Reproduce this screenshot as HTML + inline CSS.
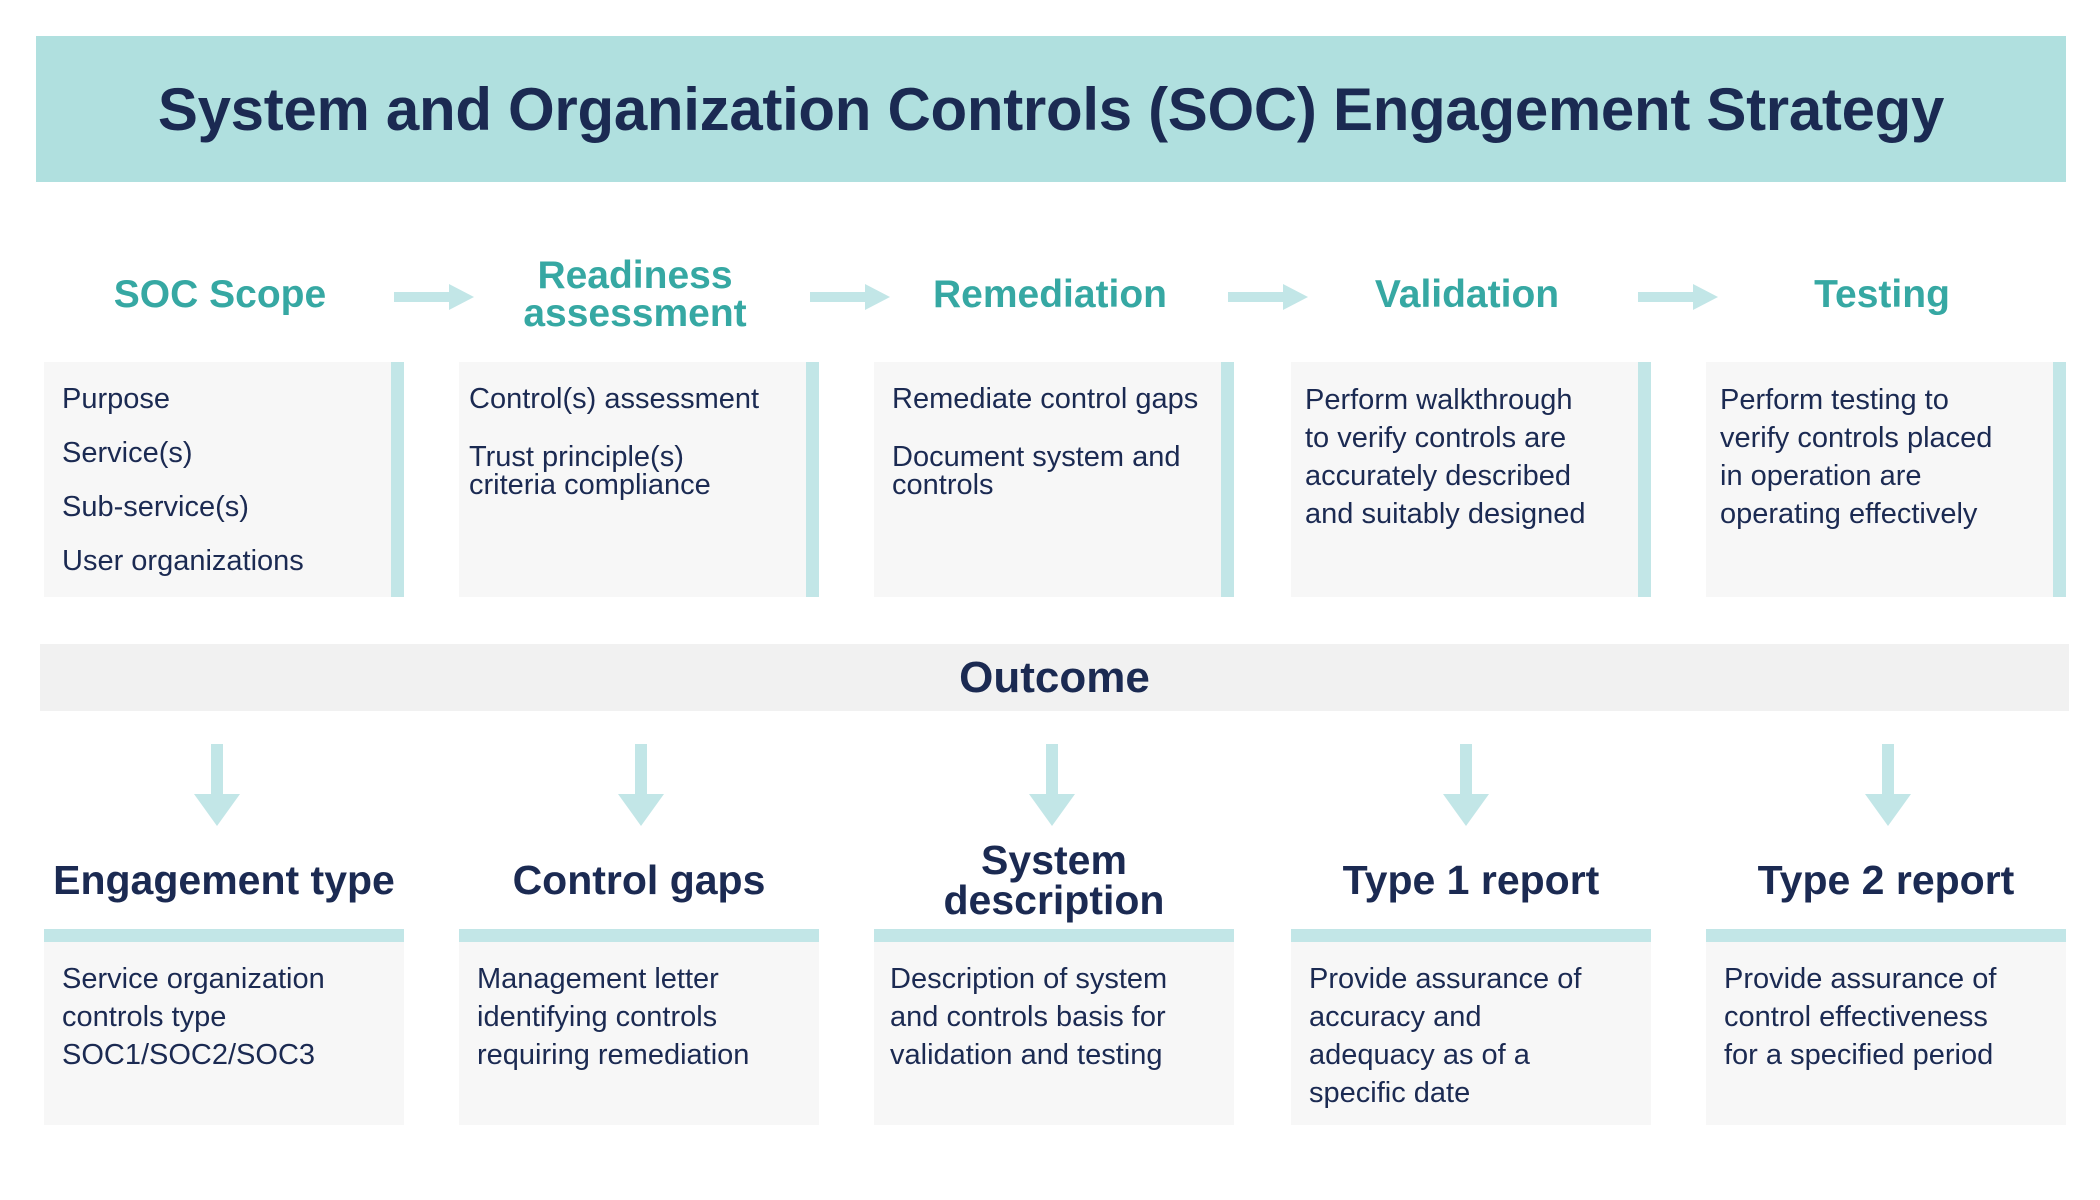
<!DOCTYPE html>
<html><head><meta charset="utf-8"><style>
*{margin:0;padding:0;box-sizing:border-box}
body{width:2100px;height:1200px;background:#fff;position:relative;overflow:hidden;font-family:"Liberation Sans",sans-serif;color:#1b2a52}
.a{position:absolute}
.banner{left:36px;top:36px;width:2030px;height:146px;background:#b0e0df;display:flex;align-items:center;justify-content:center;font-weight:bold;font-size:60px;letter-spacing:-0.3px}
.h{position:absolute;top:250px;height:90px;width:360px;display:flex;align-items:center;justify-content:center;text-align:center;color:#36a8a3;font-weight:bold;font-size:39px;line-height:38px}
.box{position:absolute;top:362px;height:235px;width:360px;background:#f7f7f7;border-right:13px solid #c2e6e7;padding:19px 6px 0 18px;font-size:29px;line-height:38px;white-space:nowrap}
.harr{position:absolute;top:284px;width:80px;height:26px}
.out{left:40px;top:644px;width:2029px;height:67px;background:#f1f1f1;text-align:center;font-weight:bold;font-size:44px;line-height:67px}
.varr{position:absolute;top:744px;width:46px;height:82px}
.bh{position:absolute;top:840px;height:80px;width:360px;display:flex;align-items:center;justify-content:center;text-align:center;font-weight:bold;font-size:41px;line-height:40px;white-space:nowrap}
.bbox{position:absolute;top:929px;height:196px;width:360px;background:#f7f7f7;border-top:13px solid #c2e6e7;padding:18px 6px 0 18px;font-size:29px;line-height:38px;white-space:nowrap}
</style></head><body>
<div class="a banner">System and Organization Controls (SOC) Engagement Strategy</div>

<div class="h" style="left:40px">SOC Scope</div>
<div class="h" style="left:455px">Readiness<br>assessment</div>
<div class="h" style="left:870px">Remediation</div>
<div class="h" style="left:1287px">Validation</div>
<div class="h" style="left:1702px">Testing</div>

<svg class="harr" style="left:394px" viewBox="0 0 80 26"><polygon points="0,8 55,8 55,0 80,13 55,26 55,18 0,18" fill="#c2e6e7"/></svg>
<svg class="harr" style="left:810px" viewBox="0 0 80 26"><polygon points="0,8 55,8 55,0 80,13 55,26 55,18 0,18" fill="#c2e6e7"/></svg>
<svg class="harr" style="left:1228px" viewBox="0 0 80 26"><polygon points="0,8 55,8 55,0 80,13 55,26 55,18 0,18" fill="#c2e6e7"/></svg>
<svg class="harr" style="left:1638px" viewBox="0 0 80 26"><polygon points="0,8 55,8 55,0 80,13 55,26 55,18 0,18" fill="#c2e6e7"/></svg>

<div class="box" style="left:44px;line-height:54px;padding-top:10px">Purpose<br>Service(s)<br>Sub-service(s)<br>User organizations</div>
<div class="box" style="left:459px;padding-left:10px;line-height:28px;padding-top:23px">Control(s) assessment<br><div style="height:30px"></div>Trust principle(s)<br>criteria compliance</div>
<div class="box" style="left:874px;padding-left:18px;line-height:28px;padding-top:23px">Remediate control gaps<br><div style="height:30px"></div>Document system and<br>controls</div>
<div class="box" style="left:1291px;padding-left:14px">Perform walkthrough<br>to verify controls are<br>accurately described<br>and suitably designed</div>
<div class="box" style="left:1706px;padding-left:14px">Perform testing to<br>verify controls placed<br>in operation are<br>operating effectively</div>

<div class="a out">Outcome</div>

<svg class="varr" style="left:194px" viewBox="0 0 46 82"><polygon points="17,0 29,0 29,50 46,50 23,82 0,50 17,50" fill="#c2e6e7"/></svg>
<svg class="varr" style="left:618px" viewBox="0 0 46 82"><polygon points="17,0 29,0 29,50 46,50 23,82 0,50 17,50" fill="#c2e6e7"/></svg>
<svg class="varr" style="left:1029px" viewBox="0 0 46 82"><polygon points="17,0 29,0 29,50 46,50 23,82 0,50 17,50" fill="#c2e6e7"/></svg>
<svg class="varr" style="left:1443px" viewBox="0 0 46 82"><polygon points="17,0 29,0 29,50 46,50 23,82 0,50 17,50" fill="#c2e6e7"/></svg>
<svg class="varr" style="left:1865px" viewBox="0 0 46 82"><polygon points="17,0 29,0 29,50 46,50 23,82 0,50 17,50" fill="#c2e6e7"/></svg>

<div class="bh" style="left:44px">Engagement type</div>
<div class="bh" style="left:459px">Control gaps</div>
<div class="bh" style="left:874px">System<br>description</div>
<div class="bh" style="left:1291px">Type 1 report</div>
<div class="bh" style="left:1706px">Type 2 report</div>

<div class="bbox" style="left:44px">Service organization<br>controls type<br>SOC1/SOC2/SOC3</div>
<div class="bbox" style="left:459px">Management letter<br>identifying controls<br>requiring remediation</div>
<div class="bbox" style="left:874px;padding-left:16px">Description of system<br>and controls basis for<br>validation and testing</div>
<div class="bbox" style="left:1291px">Provide assurance of<br>accuracy and<br>adequacy as of a<br>specific date</div>
<div class="bbox" style="left:1706px">Provide assurance of<br>control effectiveness<br>for a specified period</div>
</body></html>
